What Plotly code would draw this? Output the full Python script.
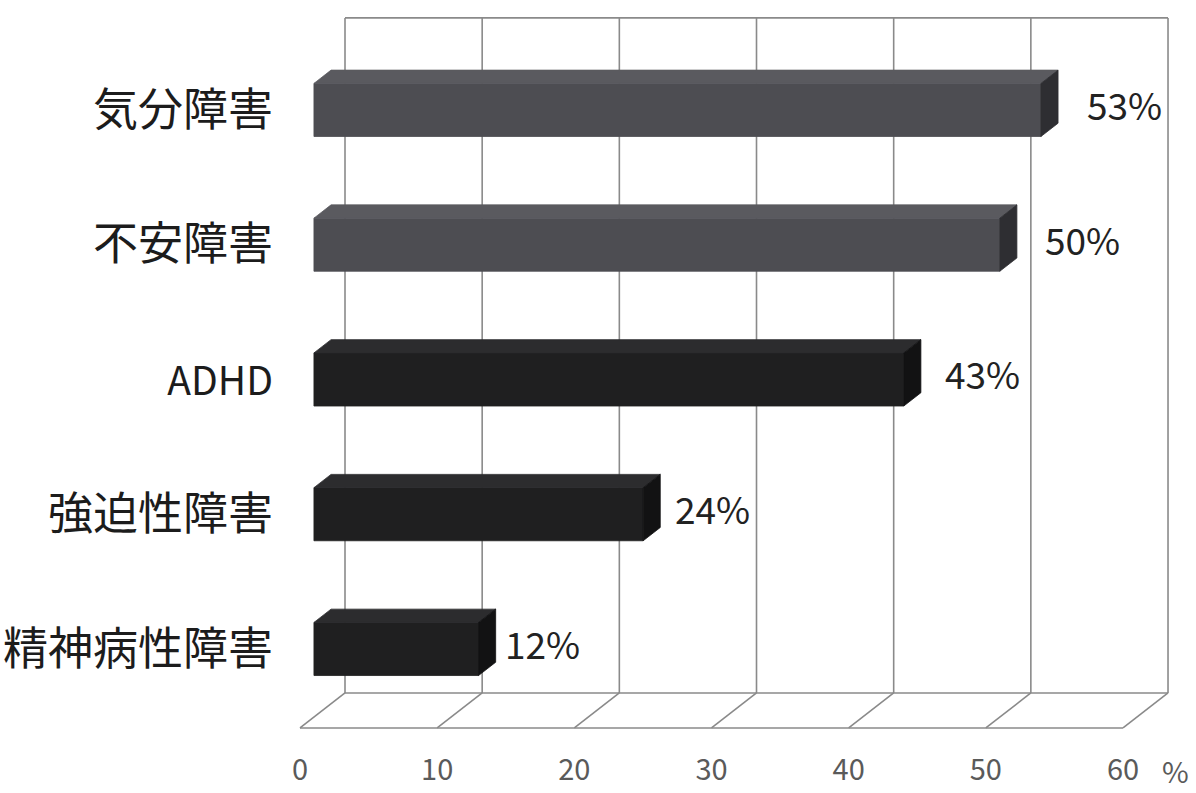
import plotly.graph_objects as go

# Data (bottom row first)
categories = ["精神病性障害", "強迫性障害", "ADHD", "不安障害", "気分障害"]
values = [12, 24, 43, 50, 53]
value_labels = ["12%", "24%", "43%", "50%", "53%"]
axis_ticks = [0, 10, 20, 30, 40, 50, 60]
axis_unit = "%"

# Oblique projection: depth d (0 = back wall, 1 = front edge of floor)
DEPTH_X = -45 / 13.717      # shift in percent units per unit depth
DEPTH_Y = -35 / 134.75      # shift in row units per unit depth
FLOOR_H = -0.3265
WALL_TOP = 4.683
BAR_FRONT, BAR_BACK = 0.69, 0.31
BAR_HALF = 0.197

GRID = "#8a8a8a"
FACE_COLORS = [
    ("#1f1f20", "#2c2c2e", "#121213"),   # dark bars: front, top, side
    ("#4d4d52", "#5a5a5f", "#2e2e32"),   # grey bars
]


def proj(v, h, d):
    return v + d * DEPTH_X, h + d * DEPTH_Y


fig = go.Figure()
shapes = []


def seg(p, q):
    shapes.append(dict(type="line", xref="x", yref="y", x0=p[0], y0=p[1], x1=q[0], y1=q[1],
                       line=dict(color=GRID, width=1.6), layer="below"))


# back wall and floor grid
for v in axis_ticks:
    seg(proj(v, FLOOR_H, 0), proj(v, WALL_TOP, 0))
    seg(proj(v, FLOOR_H, 0), proj(v, FLOOR_H, 1))
seg(proj(axis_ticks[0], WALL_TOP, 0), proj(axis_ticks[-1], WALL_TOP, 0))
seg(proj(axis_ticks[0], FLOOR_H, 0), proj(axis_ticks[-1], FLOOR_H, 0))
seg(proj(axis_ticks[0], FLOOR_H, 1), proj(axis_ticks[-1], FLOOR_H, 1))


def face(points, color):
    xs = [p[0] for p in points] + [points[0][0]]
    ys = [p[1] for p in points] + [points[0][1]]
    fig.add_trace(go.Scatter(x=xs, y=ys, mode="lines", fill="toself", fillcolor=color,
                             line=dict(color=color, width=0.8), hoverinfo="skip",
                             showlegend=False))


for i, (cat, val) in enumerate(zip(categories, values)):
    front_c, top_c, side_c = FACE_COLORS[0 if i < 3 else 1]
    h = i - BAR_FRONT * DEPTH_Y
    lo, hi = h - BAR_HALF, h + BAR_HALF
    # front face
    face([proj(0, lo, BAR_FRONT), proj(val, lo, BAR_FRONT),
          proj(val, hi, BAR_FRONT), proj(0, hi, BAR_FRONT)], front_c)
    # top face
    face([proj(0, hi, BAR_FRONT), proj(val, hi, BAR_FRONT),
          proj(val, hi, BAR_BACK), proj(0, hi, BAR_BACK)], top_c)
    # right end face
    face([proj(val, lo, BAR_FRONT), proj(val, lo, BAR_BACK),
          proj(val, hi, BAR_BACK), proj(val, hi, BAR_FRONT)], side_c)

annotations = []
for i, (val, lab) in enumerate(zip(values, value_labels)):
    x, y = proj(val, i - BAR_FRONT * DEPTH_Y, BAR_FRONT)
    annotations.append(dict(x=x, y=i, xref="x", yref="y", text=lab, showarrow=False,
                            xanchor="left", yanchor="middle", xshift=18 + 0.5 * val, yshift=6,
                            font=dict(family="Noto Sans CJK JP", size=37, color="#222222")))

# unit label next to the last tick
ux, uy = proj(axis_ticks[-1], FLOOR_H, 1)
annotations.append(dict(x=ux, y=0, xref="x", yref="paper", text=axis_unit, showarrow=False,
                        xanchor="center", yanchor="middle", xshift=52, yshift=-20,
                        font=dict(family="Noto Sans CJK JP", size=29, color="#5a5a5a")))

tick_text = [c if c.isascii() else c for c in categories]
tick_text = ['<span style="font-size:39px">%s</span>' % c if c.isascii() else c
             for c in categories]

fig.update_layout(
    width=1196, height=793,
    margin=dict(l=280, r=0, t=0, b=43),
    paper_bgcolor="white", plot_bgcolor="white",
    shapes=shapes, annotations=annotations,
    xaxis=dict(range=[-4.739, 62.04], showgrid=False, zeroline=False, showline=False,
               tickvals=[proj(v, FLOOR_H, 1)[0] for v in axis_ticks],
               ticktext=[str(v) for v in axis_ticks], ticks="",
               tickfont=dict(family="Noto Sans CJK JP", size=29, color="#5a5a5a"),
               fixedrange=True),
    yaxis=dict(range=[-0.7496, 4.816], showgrid=False, zeroline=False, showline=False,
               tickvals=list(range(len(categories))), ticktext=tick_text, ticks="",
               ticklabelstandoff=6,
               tickfont=dict(family="Noto Sans CJK JP", size=45, color="#1c1c1c"),
               fixedrange=True),
)

fig.write_html("out.html")
